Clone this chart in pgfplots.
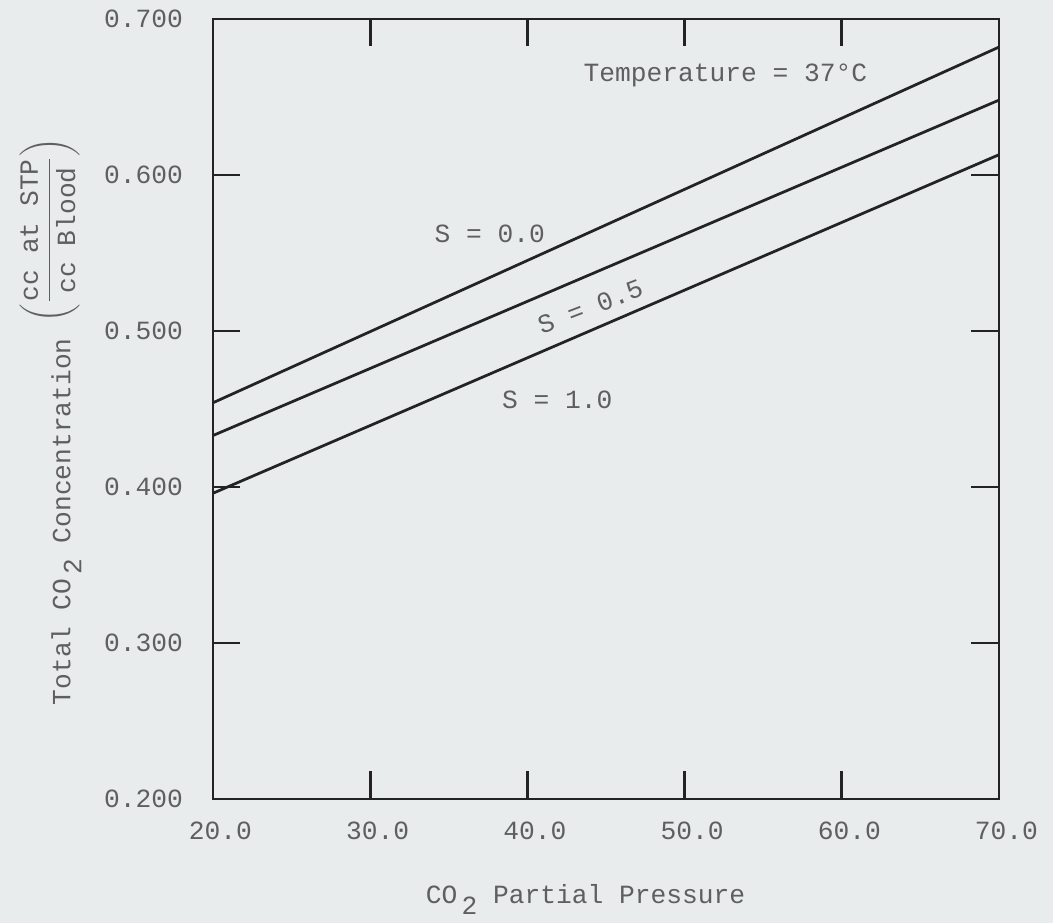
\documentclass[border=0pt]{standalone}
\usepackage{pgfplots}
\pgfplotsset{compat=1.18}
\usepackage{fontspec}
\setmainfont{Liberation Mono}
\usetikzlibrary{backgrounds,calc}
\definecolor{bg}{RGB}{232,236,236}
\definecolor{txt}{RGB}{95,95,95}
\definecolor{ln}{RGB}{35,35,35}
\begin{document}
\begin{tikzpicture}[font=\fontsize{10.5}{12}\selectfont]
\begin{axis}[name=ax, scale only axis, width=314.4pt, height=312pt,
  xmin=20, xmax=70, ymin=0.2, ymax=0.7,
  xtick={20,30,40,50,60,70},
  xticklabels={20.0,30.0,40.0,50.0,60.0,70.0},
  ytick={0.2,0.3,0.4,0.5,0.6,0.7},
  yticklabels={0.200,0.300,0.400,0.500,0.600,0.700},
  tick align=inside, major tick length=11pt,
  tick style={line width=1.1pt, ln},
  axis line style={line width=1.1pt, ln},
  ticklabel style={text=txt},
  yticklabel style={xshift=-8.5pt},
  xticklabel style={yshift=-5.5pt, xshift=3pt},
  clip=false]
\addplot[ln, line width=1.1pt] coordinates {(20,0.454) (70,0.682)};
\addplot[ln, line width=1.1pt] coordinates {(20,0.433) (70,0.648)};
\addplot[ln, line width=1.1pt] coordinates {(20,0.396) (70,0.613)};
\node[txt] at (axis cs:37.6,0.562) {S = 0.0};
\node[txt, rotate=21] at (axis cs:44.0,0.5155) {S = 0.5};
\node[txt] at (axis cs:41.9,0.456) {S = 1.0};
\node[txt] at (axis cs:52.6,0.664) {Temperature = 37°C};
\node[txt] at (axis cs:43.7,0.2) [yshift=-40.3pt] {CO\,\raisebox{-0.8ex}{2} Partial Pressure};
\end{axis}
\node[txt, rotate=90] at ($(ax.west)+(-65pt,-5pt)$)
  {Total CO\,\raisebox{-0.8ex}{2} Concentration \raisebox{5.6pt}{$\displaystyle\left(\frac{\mbox{cc at STP}}{\mbox{cc Blood}}\right)$}};
\pgfresetboundingbox
\path[use as bounding box] ($(ax.south west)+(-85.2pt,-49.6pt)$) rectangle ($(ax.north east)+(21.6pt,7.6pt)$);
\begin{pgfonlayer}{background}
\fill[bg] ($(ax.south west)+(-85.2pt,-49.6pt)$) rectangle ($(ax.north east)+(21.6pt,7.6pt)$);
\end{pgfonlayer}
\end{tikzpicture}
\end{document}
